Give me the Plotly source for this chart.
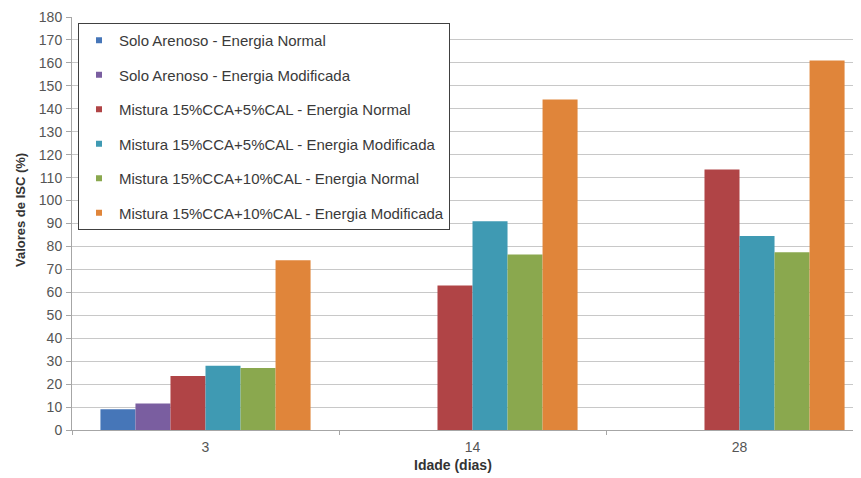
import plotly.graph_objects as go

categories = ["3", "14", "28"]
series_names = [
    "Solo Arenoso - Energia Normal",
    "Solo Arenoso - Energia Modificada",
    "Mistura 15%CCA+5%CAL - Energia Normal",
    "Mistura 15%CCA+5%CAL - Energia Modificada",
    "Mistura 15%CCA+10%CAL - Energia Normal",
    "Mistura 15%CCA+10%CAL - Energia Modificada",
]
solo_normal = [9, None, None]
solo_modificada = [11.5, None, None]
m5_normal = [23.5, 63, 113.5]
m5_modificada = [28, 91, 84.5]
m10_normal = [27, 76.5, 77.5]
m10_modificada = [74, 144, 161]
colors = ["#4676b8", "#7a5ea0", "#b04446", "#3f9ab3", "#8aa84e", "#e0853a"]
y_ticks = list(range(0, 181, 10))

series_values = [solo_normal, solo_modificada, m5_normal, m5_modificada, m10_normal, m10_modificada]

fig = go.Figure()
for name, vals, col in zip(series_names, series_values, colors):
    fig.add_trace(go.Bar(x=categories, y=vals, name=name, marker_color=col,
                         marker_line_width=0, showlegend=False))
for i, (name, col) in enumerate(zip(series_names, colors)):
    fig.add_trace(go.Scatter(x=[None], y=[None], mode="markers", name=name,
                             legendgroup=f"g{i}",
                             marker=dict(symbol="square", size=6, color=col)))

# page has an 8px body margin: work in figure coords = page coords - 8
OFF = 8
W, H = 861 - OFF, 478 - OFF
L, T = 72 - OFF, 17 - OFF
B = 478 - 430
R = 0
pw, ph = W - L - R, H - T - B

def px_x(page_x):
    return (page_x - OFF - L) / pw

def px_y(page_y):
    return 1 - (page_y - OFF - T) / ph

fig.update_layout(
    width=W, height=H,
    margin=dict(l=L, r=R, t=T, b=B, autoexpand=False),
    paper_bgcolor="white", plot_bgcolor="white",
    barmode="group", bargap=0.213, bargroupgap=0,
    font=dict(family="Liberation Sans, Arial, sans-serif", size=13, color="#555555"),
    showlegend=True,
    legend=dict(x=px_x(78), y=px_y(23), xanchor="left", yanchor="top",
                bgcolor="white", bordercolor="#404040", borderwidth=1,
                font=dict(size=15, color="#3a3a3a"),
                tracegroupgap=12, traceorder="grouped"),
    xaxis=dict(type="category", categoryorder="array", categoryarray=categories,
               range=[-0.5, 2.455], showgrid=False, showline=True, automargin=False,
               linecolor="#a6a6a6", linewidth=1, ticks="outside", tickson="boundaries",
               ticklen=4, tickcolor="#a6a6a6", ticklabelstandoff=4,
               tickfont=dict(size=14, color="#555555")),
    yaxis=dict(range=[0, 180], tickvals=y_ticks, showgrid=True, gridcolor="#c8c8c8",
               gridwidth=1, showline=True, linecolor="#a6a6a6", linewidth=1,
               ticks="outside", ticklen=5, tickcolor="#a6a6a6", zeroline=False,
               automargin=False, ticklabelstandoff=1,
               tickfont=dict(size=14, color="#555555")),
    annotations=[
        dict(text="<b>Idade (dias)</b>", x=px_x(453), xref="paper",
             y=px_y(465), yref="paper", xanchor="center", yanchor="middle",
             showarrow=False, font=dict(size=14, color="#333333")),
        dict(text="<b>Valores de ISC (%)</b>", x=px_x(20), xref="paper",
             y=px_y(210), yref="paper", xanchor="center", yanchor="middle",
             textangle=-90, showarrow=False, font=dict(size=13, color="#333333")),
    ],
)

fig.write_html("out.html")
